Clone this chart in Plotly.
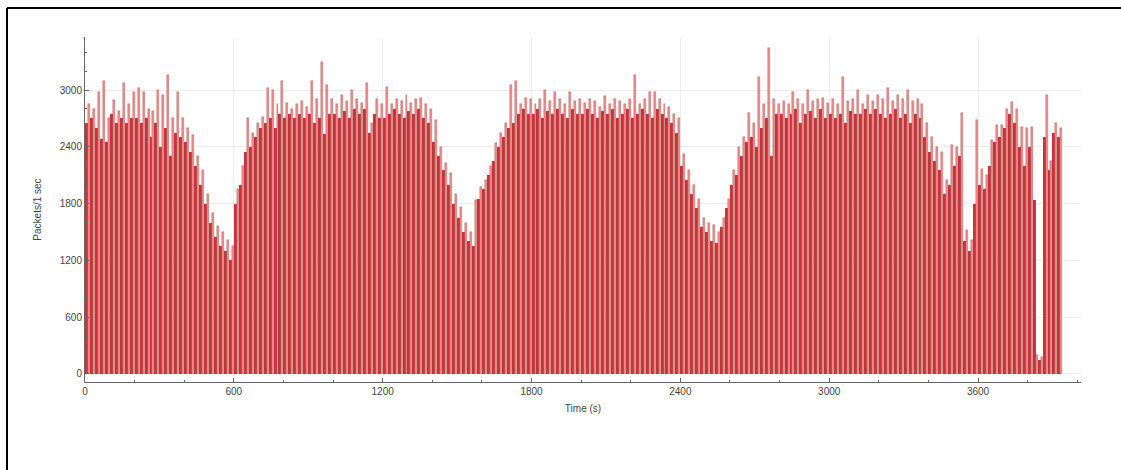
import plotly.graph_objects as go

# Bin start times (s), 20-second bins
time_bins = list(range(0, 3940, 20))

# Peak packets per bin (light bars / spikes)
peak_packets = [
    2850, 2800, 2980, 3100, 2700, 2890, 2780, 3070, 2850, 2980,
    3020, 2980, 2800, 2780, 3000, 2950, 3160, 2700, 2980, 2700,
    2600, 2520, 2300, 2150, 1900, 1700, 1560, 1500, 1420, 1350,
    1950, 2200, 2700, 2550, 2650, 2720, 3020, 3000, 2850, 3100,
    2860, 2800, 2850, 2880, 2820, 3100, 2900, 3300, 3050, 2900,
    2850, 2950, 2880, 3000, 2900, 2860, 3070, 2650, 2900, 2850,
    3030, 2850, 2900, 2880, 2950, 2860, 2900, 2920, 2850, 2800,
    2680, 2400, 2230, 2120, 1900, 1760, 1600, 1500, 1840, 1980,
    2050, 2200, 2440, 2550, 2650, 3050, 3100, 2850, 2920, 2900,
    2850, 2900, 3000, 2880, 2980, 2900, 2850, 2980, 2880, 2900,
    2860, 2900, 2880, 2820, 2940, 2850, 2900, 2880, 2850, 2900,
    3160, 2850, 2900, 2980, 2980, 2900, 2850, 2820, 2750, 2700,
    2320, 2150, 2000, 1850, 1650, 1600, 1570, 1500, 1650, 1850,
    2150, 2400, 2500, 2760, 2650, 3140, 2850, 3440, 2900, 2850,
    2880, 2850, 2980, 2900, 2850, 3000, 2880, 2900, 2920, 2860,
    2900, 2850, 3140, 2880, 2900, 3000, 2850, 2950, 2880, 2950,
    2900, 3020, 2880, 2950, 2900, 3000, 2880, 2900, 2850, 2650,
    2500, 2400, 2350, 2050, 2420, 2400, 2760, 1520, 1420, 2680,
    2170, 2100, 2470, 2630, 2630, 2800, 2870, 2800, 2610, 2600,
    2610, 200, 180, 2950, 2250, 2650, 2600,
]

# Typical packets per bin (dark bars)
base_packets = [
    2650, 2700, 2600, 2480, 2450, 2750, 2650, 2700, 2650, 2700,
    2700, 2650, 2700, 2500, 2650, 2400, 2600, 2300, 2550, 2500,
    2450, 2350, 2200, 2000, 1800, 1600, 1450, 1350, 1300, 1200,
    1800, 2000, 2350, 2400, 2500, 2600, 2650, 2700, 2600, 2750,
    2700, 2750, 2700, 2750, 2700, 2750, 2650, 2700, 2540, 2750,
    2750, 2700, 2780, 2700, 2800, 2750, 2800, 2550, 2750, 2700,
    2700, 2750, 2800, 2750, 2700, 2780, 2750, 2800, 2700, 2650,
    2450, 2300, 2150, 2000, 1800, 1650, 1500, 1400, 1350, 1850,
    1950, 2100, 2250, 2400, 2500, 2600, 2650, 2750, 2800, 2750,
    2750, 2800, 2700, 2780, 2750, 2800, 2750, 2700, 2800, 2750,
    2750, 2800, 2750, 2700, 2780, 2750, 2800, 2700, 2750, 2800,
    2700, 2750, 2800, 2750, 2700, 2800, 2750, 2700, 2650, 2550,
    2200, 2050, 1900, 1750, 1550, 1500, 1400, 1380, 1550, 1750,
    2000, 2100, 2300, 2450, 2500, 2400, 2600, 2700, 2300, 2750,
    2750, 2700, 2750, 2800, 2650, 2750, 2780, 2700, 2800, 2700,
    2750, 2700, 2750, 2650, 2780, 2750, 2750, 2800, 2750, 2800,
    2750, 2700, 2750, 2800, 2700, 2750, 2650, 2750, 2700, 2500,
    2350, 2250, 2150, 1900, 2000, 2200, 2300, 1400, 1300, 1800,
    2000, 1950, 2200, 2450, 2500, 2600, 2750, 2650, 2400, 2200,
    2400, 1840, 150, 2500, 2150, 2550, 2500,
]

x_ticks = [0, 600, 1200, 1800, 2400, 3000, 3600]
y_ticks = [0, 600, 1200, 1800, 2400, 3000]

fig = go.Figure()
fig.add_trace(go.Bar(
    x=time_bins, y=base_packets, width=12, offset=0,
    marker=dict(color="#c7343a", line=dict(width=0)),
    showlegend=False, hoverinfo="x+y",
))
fig.add_trace(go.Bar(
    x=time_bins, y=peak_packets, width=8, offset=12,
    marker=dict(color="#f08c8c", line=dict(color="rgba(140,60,60,0.6)", width=0.5)),
    showlegend=False, hoverinfo="x+y",
))

font = dict(family="Liberation Sans, Arial, sans-serif", size=10, color="#444")

frame_left = (7 - 85) / 996
frame_top = (382 - 8) / 345

fig.update_layout(
    width=1121, height=470,
    margin=dict(l=85, r=40, t=37, b=88),
    paper_bgcolor="white", plot_bgcolor="white",
    barmode="overlay", bargap=0,
    font=font,
    xaxis=dict(
        range=[0, 4015], tickvals=x_ticks, ticktext=[str(v) for v in x_ticks],
        showgrid=True, gridcolor="#eeeeee", gridwidth=1,
        showline=True, linecolor="#666", linewidth=1,
        ticks="inside", ticklen=4, tickcolor="#666",
        minor=dict(dtick=200, tick0=0, ticks="inside", ticklen=2, tickcolor="#666", showgrid=False),
        title=dict(text="Time (s)", font=font, standoff=8),
        zeroline=False, fixedrange=True,
    ),
    yaxis=dict(
        range=[-85, 3560], tickvals=y_ticks, ticktext=[str(v) for v in y_ticks],
        showgrid=True, gridcolor="#eeeeee", gridwidth=1,
        showline=True, linecolor="#666", linewidth=1,
        ticks="inside", ticklen=4, tickcolor="#666",
        minor=dict(dtick=200, tick0=0, ticks="inside", ticklen=2, tickcolor="#666", showgrid=False),
        title=dict(text="Packets/1 sec", font=font, standoff=16),
        zeroline=False, fixedrange=True,
    ),
    shapes=[
        dict(type="line", xref="paper", yref="paper",
             x0=frame_left, x1=1.1, y0=frame_top, y1=frame_top,
             line=dict(color="black", width=2), layer="above"),
        dict(type="line", xref="paper", yref="paper",
             x0=frame_left, x1=frame_left, y0=-0.4, y1=frame_top,
             line=dict(color="black", width=2), layer="above"),
    ],
)

fig.write_html(
    "out.html",
    config={"displayModeBar": False},
    post_script=(
        "document.documentElement.style.overflow='hidden';"
        "document.documentElement.style.margin='0';"
        "document.body.style.margin='0';"
        "document.body.style.overflow='hidden';"
    ),
)
